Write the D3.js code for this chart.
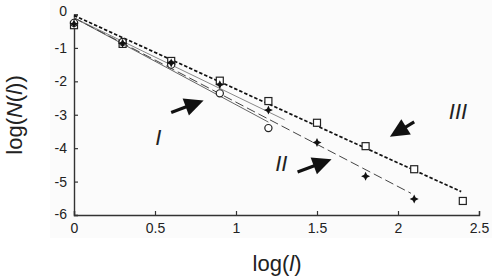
<!DOCTYPE html>
<html><head><meta charset="utf-8">
<script src="https://cdn.jsdelivr.net/npm/d3@7"></script>
<style>body{margin:0;background:#fff}svg{display:block}text{font-family:Arial,"Liberation Sans",sans-serif;fill:#222}</style>
</head><body><svg id="c" width="498" height="280"></svg>
<script>
const xTicks = [0, 0.5, 1, 1.5, 2, 2.5];
const yTicks = [0, -1, -2, -3, -4, -5, -6];
const xI = [0, 0.3, 0.6, 0.9, 1.2];
const yI = [-0.25, -0.82, -1.5, -2.36, -3.4];
const xII = [0, 0.3, 0.6, 0.9, 1.2, 1.5, 1.8, 2.1];
const yII = [-0.28, -0.86, -1.45, -2.1, -2.86, -3.83, -4.84, -5.52];
const xIII = [0, 0.3, 0.6, 0.9, 1.2, 1.5, 1.8, 2.1, 2.4];
const yIII = [-0.32, -0.88, -1.39, -1.98, -2.59, -3.24, -3.94, -4.63, -5.58];
// fitted lines: [x0,y0,x1,y1]
const fitI = [0, -0.1, 1.2, -3.22];
const fitIb = [0, -0.1, 1.3, -3.15];
const fitII = [0, -0.1, 2.08, -5.35];
const fitIII = [0, -0.03, 2.39, -5.3];
const labels = ["I", "II", "III"];
// arrows in data coords: [x tail, y tail, x tip, y tip]
const arrows = [[0.60, -2.93, 0.80, -2.57], [1.38, -4.71, 1.59, -4.33], [2.1, -3.21, 1.95, -3.66]];
const labelPos = [[0.52, -3.9], [1.28, -4.68], [2.37, -3.12]];

const svg = d3.select("#c");
svg.append("rect").attr("x", 50).attr("y", 0).attr("width", 442).attr("height", 238).attr("fill", "#fbfbfb");
const x = d3.scaleLinear().domain([0, 2.5]).range([74, 479]);
const y = d3.scaleLinear().domain([0, -6]).range([14.5, 215]);

const gx = svg.append("g").attr("transform", "translate(0,215)")
  .call(d3.axisBottom(x).tickValues(xTicks).tickSize(-4).tickPadding(8).tickFormat(d3.format("")));
const gy = svg.append("g").attr("transform", "translate(74,0)")
  .call(d3.axisLeft(y).tickValues(yTicks).tickSize(-4).tickPadding(7).tickFormat(d => d === 0 ? "0" : String(d)));
[gx, gy].forEach(g => {
  g.select(".domain").attr("stroke", "#333").attr("stroke-width", 1.4);
  g.selectAll(".tick line").attr("stroke", "#333").attr("stroke-width", 1.2);
  g.selectAll("text").attr("font-size", 14).attr("fill", "#222").attr("font-family", "Arial, Liberation Sans, sans-serif");
});
gy.selectAll(".tick").filter(d => d === 0).select("text").attr("dy", "0.1em");
gy.selectAll(".tick").filter(d => d === -6).select("text").attr("dy", "0.25em");

function fit(f, stroke, w, dash) {
  svg.append("line").attr("x1", x(f[0])).attr("y1", y(f[1])).attr("x2", x(f[2])).attr("y2", y(f[3]))
    .attr("stroke", stroke).attr("stroke-width", w).attr("stroke-dasharray", dash || null);
}
fit(fitI, "#666", 1);
fit(fitIb, "#888", 1);
fit(fitII, "#444", 1, "9,4");
fit(fitIII, "#111", 1.7, "3.5,2");

xIII.forEach((v, i) => svg.append("rect").attr("x", x(v) - 3.5).attr("y", y(yIII[i]) - 3.5)
  .attr("width", 7).attr("height", 7).attr("fill", "#fff").attr("stroke", "#222").attr("stroke-width", 1.2));
xI.forEach((v, i) => svg.append("circle").attr("cx", x(v)).attr("cy", y(yI[i])).attr("r", 3.6)
  .attr("fill", "#fff").attr("stroke", "#222").attr("stroke-width", 1.2));
const star4 = {
  draw(ctx, size) {
    const r = Math.sqrt(size) * 0.75, q = r * 0.32;
    ctx.moveTo(0, -r); ctx.lineTo(q, -q); ctx.lineTo(r, 0); ctx.lineTo(q, q);
    ctx.lineTo(0, r); ctx.lineTo(-q, q); ctx.lineTo(-r, 0); ctx.lineTo(-q, -q); ctx.closePath();
  }
};
const star = d3.symbol().type(star4).size(36);
xII.forEach((v, i) => svg.append("path").attr("d", star()).attr("transform", `translate(${x(v)},${y(yII[i])})`).attr("fill", "#111"));

arrows.forEach(a => {
  const x1 = x(a[0]), y1 = y(a[1]), x2 = x(a[2]), y2 = y(a[3]);
  const ang = Math.atan2(y2 - y1, x2 - x1), L = 19, W = 9;
  const bx = x2 - L * Math.cos(ang), by = y2 - L * Math.sin(ang);
  svg.append("line").attr("x1", x1).attr("y1", y1).attr("x2", bx + 2 * Math.cos(ang)).attr("y2", by + 2 * Math.sin(ang)).attr("stroke", "#111").attr("stroke-width", 3.2);
  const px = -Math.sin(ang) * W, py = Math.cos(ang) * W;
  svg.append("path").attr("d", `M${x2},${y2}L${bx + px},${by + py}L${bx - px},${by - py}Z`).attr("fill", "#111");
});
labels.forEach((t, i) => svg.append("text").attr("x", x(labelPos[i][0])).attr("y", y(labelPos[i][1]))
  .attr("font-size", 22).attr("font-style", "italic").attr("text-anchor", "middle").text(t));

const xl = svg.append("text").attr("x", 277).attr("y", 271).attr("font-size", 22).attr("text-anchor", "middle");
xl.append("tspan").text("log(");
xl.append("tspan").attr("font-style", "italic").text("l");
xl.append("tspan").text(")");
const yl = svg.append("text").attr("transform", "translate(22,115) rotate(-90)").attr("font-size", 22).attr("text-anchor", "middle");
yl.append("tspan").text("log(");
yl.append("tspan").attr("font-style", "italic").text("N");
yl.append("tspan").text("(");
yl.append("tspan").attr("font-style", "italic").text("l");
yl.append("tspan").text("))");
</script></body></html>
